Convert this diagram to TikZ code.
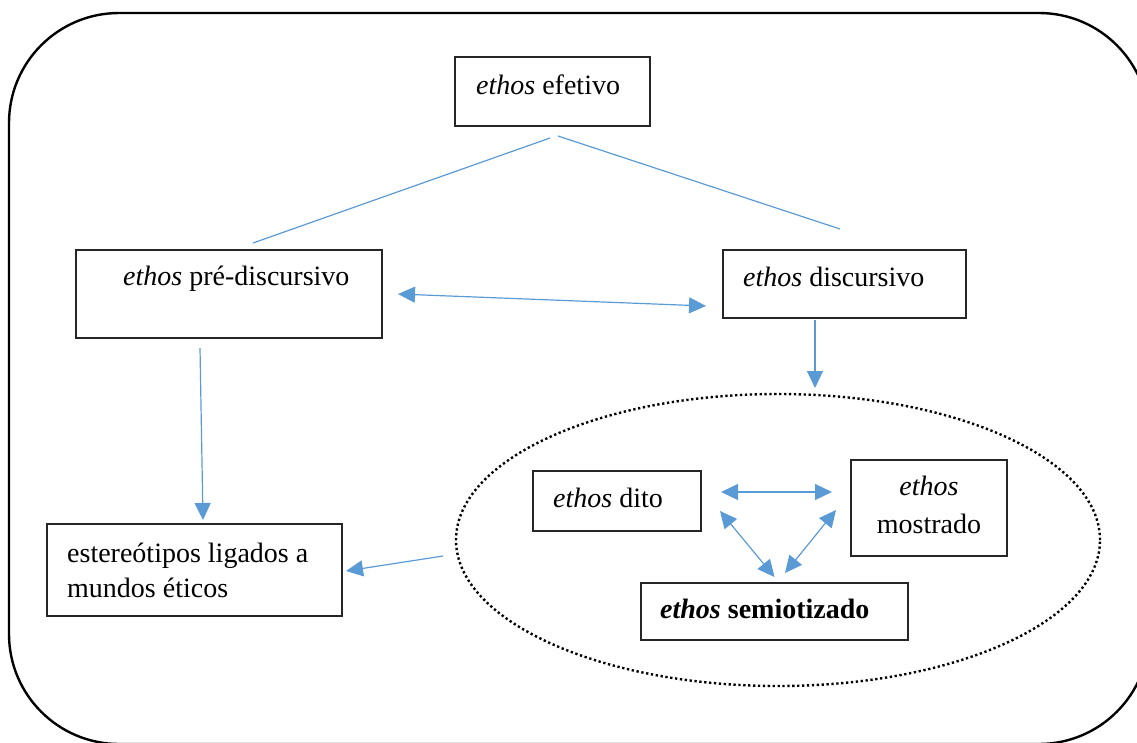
\documentclass[tikz,border=0pt]{standalone}
\usepackage{fontspec}
\setmainfont{Liberation Serif}
\usetikzlibrary{arrows.meta,calc,shapes.geometric}
\definecolor{conblue}{HTML}{5B9BD5}
\begin{document}
\begin{tikzpicture}[x=1pt,y=-1pt,
  box/.style={draw=black!85, line width=1.3pt, rectangle, anchor=north west, inner sep=0pt, outer sep=0pt},
  txt/.style={inner sep=0pt, anchor=base west, font=\fontsize{28}{35}\selectfont},
  con/.style={draw=conblue, line width=1.2pt},
  arr/.style={con, -{Triangle[length=17pt,width=16pt]}},
  darr/.style={con, {Triangle[length=17pt,width=16pt]}-{Triangle[length=17pt,width=16pt]}},
]
\useasboundingbox (0,0) rectangle (1137,742);
\begin{scope}
\clip (0,0) rectangle (1137,742);
\draw[line width=2.4pt, rounded corners=110pt] (9,13) rectangle (1149,744);
\end{scope}

% dotted ellipse
\node[ellipse, draw, line width=2.4pt, dash pattern=on 2.3pt off 2.6pt, minimum width=644pt, minimum height=292pt, inner sep=0pt, outer sep=0pt] (circ) at (778,540) {};

% boxes
\node[box, minimum width=195pt, minimum height=69pt] (efetivo) at (455,57) {};
\node[box, minimum width=306pt, minimum height=88pt] (pre) at (76,250) {};
\node[box, minimum width=243pt, minimum height=68pt] (disc) at (723,250) {};
\node[box, minimum width=295pt, minimum height=92pt] (estereo) at (47,524) {};
\node[box, minimum width=168pt, minimum height=60pt] (dito) at (533,471) {};
\node[box, minimum width=156pt, minimum height=96pt] (mostr) at (851,460) {};
\node[box, minimum width=267pt, minimum height=57pt] (semio) at (641,583) {};

% texts
\node[txt] (efetivo-t) at (476,94) {\textit{ethos} efetivo};
\node[txt] (pre-t) at (123,285) {\textit{ethos} pré-discursivo};
\node[txt] (disc-t) at (743,286) {\textit{ethos} discursivo};
\node[txt, align=left] (estereo-t) at (67,597) {estereótipos ligados a\\mundos éticos};
\node[txt] (dito-t) at (553,507) {\textit{ethos} dito};
\node[txt, anchor=base, align=center, font=\fontsize{28}{38}\selectfont] (mostr-t) at (929,533) {\textit{ethos}\\mostrado};
\node[txt] (semio-t) at (660,618) {\textbf{\textit{ethos} semiotizado}};

% connector end points
\coordinate (a1) at ($(efetivo.south west)+(95,12)$);
\coordinate (a2) at ($(pre.north west)+(177,-7)$);
\coordinate (b1) at ($(efetivo.south west)+(103,10)$);
\coordinate (b2) at ($(disc.north west)+(117,-21)$);
\coordinate (c1) at ($(pre.east)+(16,0)$);
\coordinate (c2) at ($(disc.west)+(-17,22)$);
\coordinate (d1) at ($(disc.south)+(-29.5,2)$);
\coordinate (d2) at ($(circ.north)+(37,-6)$);
\coordinate (e1) at ($(pre.south west)+(124,10)$);
\coordinate (e2) at ($(estereo.north west)+(156,-4)$);
\coordinate (f1) at ($(circ.west)+(-13,16)$);
\coordinate (f2) at ($(estereo.east)+(4,1)$);
\coordinate (g1) at ($(dito.east)+(20,-9)$);
\coordinate (g2) at ($(mostr.west)+(-19,-16)$);
\coordinate (h1) at ($(dito.south east)+(19,-20)$);
\coordinate (h2) at ($(semio.north)+(0,-6)$);
\coordinate (i1) at ($(mostr.south west)+(-15,-46)$);
\coordinate (i2) at ($(semio.north)+(10.5,-10)$);

% connectors
\draw[con] (a1) -- (a2);
\draw[con] (b1) -- (b2);
\draw[darr] (c1) -- (c2);
\draw[arr] (d1) -- (d2);
\draw[arr] (e1) -- (e2);
\draw[arr] (f1) -- (f2);
\draw[darr] (g1) -- (g2);
\draw[darr] (h1) -- (h2);
\draw[darr] (i1) -- (i2);
\end{tikzpicture}
\end{document}
